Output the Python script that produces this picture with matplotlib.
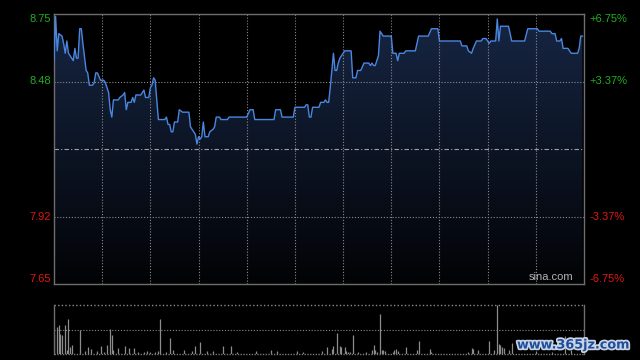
import numpy as np
import matplotlib
matplotlib.use('Agg')
import matplotlib.pyplot as plt
import matplotlib.patheffects as pe
from matplotlib.transforms import blended_transform_factory

# intraday minutes (0 = 9:30, 330 = 16:00) and prices
price_minutes = [0, 1, 2, 3, 5, 6, 7, 8, 9, 10, 11, 12, 13, 14, 15, 16, 17, 18, 20, 21,
                 22, 24, 25, 26, 27, 29, 31, 32, 33, 34, 35, 36, 37, 40, 41, 43, 44, 45, 46, 48,
                 49, 50, 51, 54, 56, 57, 59, 60, 61, 62, 63, 65, 69, 70, 71, 72, 73, 74, 75, 77,
                 78, 80, 84, 85, 86, 88, 89, 90, 91, 92, 93, 94, 96, 97, 99, 100, 101, 103, 104, 108,
                 109, 120, 122, 124, 125, 137, 138, 141, 142, 149, 150, 156, 157, 158, 159, 160, 161, 165, 166, 168,
                 169, 170, 171, 172, 174, 175, 176, 177, 178, 180, 181, 185, 186, 188, 189, 191, 193, 196, 197, 198,
                 199, 200, 202, 203, 205, 210, 211, 213, 214, 215, 218, 219, 225, 227, 233, 235, 239, 240, 253, 254,
                 257, 258, 260, 261, 263, 266, 267, 269, 271, 272, 275, 276, 277, 278, 283, 285, 293, 295, 301, 302,
                 309, 310, 312, 313, 315, 316, 317, 320, 322, 326, 327, 328, 329]
prices = [8.56, 8.74, 8.60, 8.67, 8.66, 8.63, 8.59, 8.64, 8.59, 8.58, 8.57, 8.56, 8.61, 8.57, 8.57, 8.69, 8.69, 8.63, 8.52, 8.51,
          8.46, 8.46, 8.47, 8.51, 8.51, 8.48, 8.48, 8.47, 8.45, 8.43, 8.36, 8.33, 8.40, 8.40, 8.41, 8.42, 8.43, 8.36, 8.39, 8.39,
          8.41, 8.39, 8.42, 8.42, 8.44, 8.41, 8.41, 8.45, 8.46, 8.49, 8.48, 8.32, 8.32, 8.33, 8.30, 8.30, 8.27, 8.27, 8.31, 8.31,
          8.36, 8.35, 8.35, 8.29, 8.28, 8.26, 8.22, 8.25, 8.24, 8.25, 8.31, 8.25, 8.25, 8.27, 8.28, 8.29, 8.33, 8.33, 8.32, 8.32,
          8.33, 8.33, 8.36, 8.36, 8.32, 8.32, 8.36, 8.36, 8.33, 8.33, 8.37, 8.37, 8.38, 8.38, 8.33, 8.33, 8.37, 8.37, 8.39, 8.39,
          8.40, 8.39, 8.39, 8.45, 8.59, 8.52, 8.52, 8.55, 8.57, 8.59, 8.60, 8.60, 8.49, 8.49, 8.52, 8.52, 8.55, 8.55, 8.54, 8.55,
          8.54, 8.54, 8.58, 8.68, 8.66, 8.66, 8.59, 8.59, 8.56, 8.59, 8.59, 8.60, 8.60, 8.66, 8.66, 8.69, 8.69, 8.64, 8.64, 8.62,
          8.62, 8.60, 8.59, 8.61, 8.64, 8.64, 8.65, 8.65, 8.63, 8.64, 8.64, 8.73, 8.64, 8.70, 8.70, 8.64, 8.64, 8.69, 8.69, 8.68,
          8.68, 8.67, 8.67, 8.64, 8.64, 8.65, 8.61, 8.61, 8.59, 8.59, 8.61, 8.66, 8.66]

# volume bars (relative units, panel top = 98)
vol_minutes = [0, 2, 3, 4, 5, 7, 8, 9, 10, 11, 16, 19, 21, 23, 27, 29, 31, 33, 35, 36,
               37, 40, 44, 47, 50, 52, 56, 58, 60, 63, 65, 66, 70, 72, 74, 81, 86, 88, 91, 95,
               99, 105, 110, 114, 126, 135, 139, 151, 155, 167, 170, 173, 174, 176, 178, 179, 181, 182, 183, 184,
               186, 189, 194, 198, 199, 200, 201, 203, 204, 205, 206, 211, 212, 213, 214, 219, 226, 227, 234, 235,
               258, 260, 261, 264, 271, 274, 276, 277, 278, 279, 280, 283, 285, 300, 310, 318, 322]
vol_values = [40, 54, 58, 40, 38, 58, 8, 70, 15, 18, 48, 6, 14, 10, 6, 16, 4, 18, 50, 38,
              8, 12, 16, 12, 12, 4, 4, 6, 4, 4, 6, 70, 4, 33, 8, 8, 6, 17, 24, 6,
              6, 17, 17, 4, 6, 8, 6, 6, 4, 6, 14, 10, 16, 42, 16, 15, 14, 6, 4, 4,
              38, 5, 4, 8, 18, 8, 4, 80, 8, 8, 6, 5, 8, 10, 6, 14, 8, 27, 10, 4,
              4, 12, 10, 8, 27, 8, 98, 20, 18, 14, 12, 8, 22, 6, 4, 36, 8]

price_top, price_bottom, prev_close = 8.75, 7.65, 8.20
left_labels = ['8.75', '8.48', '7.92', '7.65']
right_labels = ['+6.75%', '+3.37%', '-3.37%', '-6.75%']
label_levels = [8.75, 8.475, 7.925, 7.65]

W, H = 640, 360
fig = plt.figure(figsize=(6.4, 3.6), dpi=100, facecolor='black')
ax = fig.add_axes([54 / W, (H - 284) / H, 530 / W, 270 / H], facecolor='black')
axv = fig.add_axes([54 / W, (H - 354) / H, 530 / W, 49 / H], facecolor='black')

grid_kw = dict(color='#8a8a8a', lw=0.8, ls=(0, (1, 1.6)))

# price panel
ax.set_xlim(0, 330)
ax.set_ylim(price_bottom, price_top)
for m in range(30, 330, 30):
    ax.axvline(m, **grid_kw, zorder=2.5)
for lv in [8.475, 7.925]:
    ax.axhline(lv, **grid_kw, zorder=2.5)
ax.axhline(prev_close, color='#a0a0a0', lw=0.8, ls=(0, (4, 2, 1, 2)), zorder=2.5)

# gradient fill under the line
grad = np.linspace(1, 0, 256).reshape(-1, 1)
top_rgb = np.array([23, 38, 68]) / 255
bot_rgb = np.array([2, 3, 5]) / 255
img = bot_rgb + (top_rgb - bot_rgb) * grad[..., None]
poly = ax.fill_between(price_minutes, prices, price_bottom, color='none', lw=0)
im = ax.imshow(img, extent=[0, 330, price_bottom, price_top], aspect='auto', zorder=2)
im.set_clip_path(poly.get_paths()[0], transform=ax.transData)
ax.plot(price_minutes, prices, color='#4a86e0', lw=1.0, zorder=3)

for s in ax.spines.values():
    s.set_color('#6e6e6e')
    s.set_linewidth(1.0)
ax.set_xticks([])
ax.set_yticks([])

tr = blended_transform_factory(ax.transAxes, ax.transData)
for i, (lv, lt, rt) in enumerate(zip(label_levels, left_labels, right_labels)):
    col = '#1fae1f' if lv > prev_close else '#e01414'
    va = 'top' if i == 0 else ('bottom' if i == len(label_levels) - 1 else 'center')
    ax.text(-0.006, lv, lt, transform=tr, ha='right', va=va, color=col,
            fontsize=8, family='Liberation Sans')
    ax.text(1.011, lv, rt, transform=tr, ha='left', va=va, color=col,
            fontsize=8, family='Liberation Sans')
ax.text(0.979, 0.008, 'sina.com', transform=ax.transAxes, ha='right', va='bottom',
        color='#b4b4b4', fontsize=8, family='Liberation Sans')

# volume panel
axv.set_xlim(0, 330)
axv.set_ylim(0, max(vol_values))
axv.vlines(vol_minutes, 0, vol_values, color='#8c8c8c', lw=0.9)
axv.axhline(max(vol_values) / 2, **grid_kw)
axv.set_xticks([])
axv.set_yticks([])
for k in ['left', 'right']:
    axv.spines[k].set_color('#6e6e6e')
    axv.spines[k].set_linewidth(1.0)
for k in ['top', 'bottom']:
    axv.spines[k].set_visible(False)
axv.axhline(max(vol_values), color='#8a8a8a', lw=1.0, ls=(0, (1, 1.6)), clip_on=False)
axv.axhline(0, color='#7a7a7a', lw=1.0, ls=(0, (1, 1)), clip_on=False)

fig.text(517 / W, (H - 345) / H, 'www.365jz.com', color='#1e4d99', fontsize=9.2,
         fontweight='bold', ha='left', va='center',
         path_effects=[pe.withStroke(linewidth=2.5, foreground='#c9d3e6')])

fig.savefig('out.png', dpi=100, facecolor='black')
